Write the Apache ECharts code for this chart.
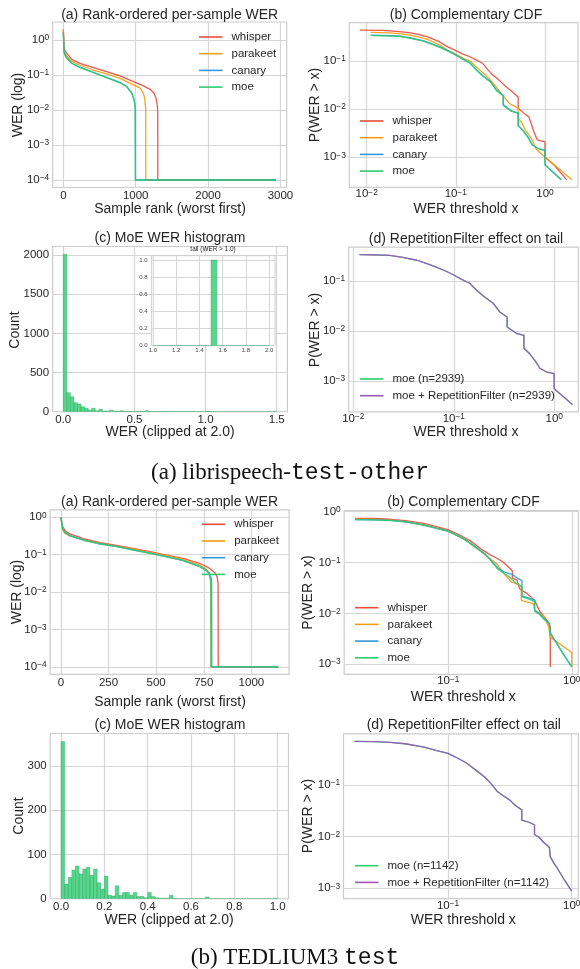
<!DOCTYPE html>
<html><head><meta charset="utf-8">
<script src="https://cdn.jsdelivr.net/npm/echarts@6/dist/echarts.min.js"></script>
<style>html,body{margin:0;padding:0;background:#fff}#c{width:580px;height:969px}</style>
</head><body><div id="c"></div><script>
// ================= DATA =================
// --- librispeech test-other: rank-ordered per-sample WER [rank, WER] ---
const libriRankWhisper = [[0,2.0],[9,0.65],[23,0.5],[46,0.42],[115,0.28],[230,0.215],[415,0.162],[599,0.125],[783,0.094],[968,0.065],[1106,0.049],[1198,0.039],[1253,0.03],[1281,0.0216],[1299,0.013],[1304,0.0085],[1305,1e-4],[2938,1e-4]];
const libriRankParakeet = [[0,2.0],[9,0.52],[23,0.42],[46,0.35],[115,0.25],[230,0.19],[415,0.139],[599,0.107],[783,0.08],[968,0.052],[1060,0.042],[1106,0.03],[1124,0.0216],[1134,0.013],[1138,0.011],[1139,1e-4],[2938,1e-4]];
const libriRankCanary = [[0,1.7],[9,0.48],[23,0.38],[46,0.31],[115,0.22],[230,0.167],[415,0.12],[599,0.086],[783,0.062],[876,0.047],[945,0.031],[977,0.02],[991,0.013],[997,0.011],[998,1e-4],[2938,1e-4]];
const libriRankMoe = [[0,1.5],[9,0.46],[23,0.37],[46,0.3],[115,0.215],[230,0.162],[415,0.117],[599,0.084],[783,0.06],[876,0.046],[945,0.03],[977,0.0194],[991,0.0125],[994,0.0115],[995,1e-4],[2938,1e-4]];
// --- librispeech: complementary CDF [x, P(WER > x)] ---
const libriCcdfWhisper = [[0.0084,0.44],[0.015,0.435],[0.02,0.42],[0.03,0.39],[0.04,0.35],[0.05,0.31],[0.066,0.25],[0.08,0.2],[0.1,0.165],[0.12,0.14],[0.144,0.123],[0.17,0.105],[0.2,0.09],[0.23,0.065],[0.26,0.051],[0.29,0.044],[0.32,0.037],[0.36,0.03],[0.42,0.024],[0.5,0.018],[0.5,0.0105],[0.55,0.009],[0.6,0.0078],[0.66,0.0069],[0.7,0.005],[0.75,0.0034],[0.82,0.0023],[1.0,0.0021],[1.0,0.001],[1.26,0.0007],[1.75,0.00034]];
const libriCcdfParakeet = [[0.011,0.395],[0.015,0.39],[0.02,0.38],[0.03,0.35],[0.04,0.31],[0.05,0.275],[0.066,0.215],[0.08,0.17],[0.1,0.14],[0.12,0.115],[0.144,0.1],[0.17,0.075],[0.2,0.058],[0.24,0.042],[0.28,0.03],[0.33,0.02],[0.4,0.013],[0.5,0.0105],[0.5,0.0065],[0.55,0.0052],[0.6,0.0037],[0.7,0.0025],[0.79,0.0015],[1.0,0.001],[1.4,0.0006],[2.0,0.00034]];
const libriCcdfCanary = [[0.011,0.345],[0.015,0.342],[0.023,0.332],[0.03,0.307],[0.043,0.266],[0.055,0.226],[0.067,0.195],[0.085,0.159],[0.1,0.135],[0.12,0.11],[0.144,0.092],[0.168,0.068],[0.2,0.05],[0.247,0.037],[0.287,0.025],[0.34,0.0195],[0.34,0.0125],[0.42,0.0092],[0.5,0.0084],[0.5,0.0046],[0.57,0.0036],[0.65,0.0026],[0.72,0.0018],[0.85,0.0015],[1.0,0.0014],[1.0,0.0007],[1.52,0.00034]];
const libriCcdfMoe = [[0.0115,0.337],[0.015,0.335],[0.023,0.325],[0.03,0.3],[0.043,0.26],[0.055,0.22],[0.067,0.19],[0.085,0.155],[0.1,0.132],[0.12,0.108],[0.144,0.09],[0.168,0.066],[0.2,0.049],[0.247,0.036],[0.287,0.024],[0.34,0.019],[0.34,0.012],[0.42,0.009],[0.5,0.0082],[0.5,0.0045],[0.57,0.0035],[0.65,0.0025],[0.72,0.0018],[0.85,0.0015],[1.0,0.0014],[1.0,0.0007],[1.52,0.00034]];
const libriCcdfMoeFiltered = libriCcdfMoe;
// --- librispeech: MoE WER histogram (60 bins on [0, 1.5]) and tail inset (20 bins on [1, 2]) ---
const libriHistStart = 0, libriHistWidth = 0.025;
const libriHistCounts = [2010,243,192,115,98,64,45,22,43,12, 30,10,9,20,8,7,12,4,5,3, 4,6,3,12,3,2,2,1,2,1, 2,1,1,1,1,1,1,0,1,0, 6,1,1,0,0,0,0,0,0,0, 0,0,0,0,0,0,0,0,0,1];
const tailHistStart = 1.0, tailHistWidth = 0.05;
const tailHistCounts = [0,0,0,0,0,0,0,0,0,0,1,0,0,0,0,0,0,0,0,0];

// --- TEDLIUM3 test: rank-ordered per-sample WER ---
const tedRankWhisper = [[0,1.0],[9,0.56],[21,0.44],[47,0.36],[117,0.27],[205,0.21],[292,0.178],[379,0.148],[467,0.12],[554,0.098],[641,0.08],[729,0.059],[781,0.043],[808,0.033],[820,0.026],[825,0.0175],[826,1e-4],[1141,1e-4]];
const tedRankParakeet = [[0,0.94],[9,0.46],[21,0.37],[47,0.32],[117,0.247],[205,0.2],[292,0.17],[379,0.142],[467,0.115],[554,0.094],[641,0.075],[729,0.053],[764,0.041],[778,0.032],[785,0.021],[787,0.0175],[788,1e-4],[1141,1e-4]];
const tedRankCanary = [[0,1.0],[9,0.5],[21,0.39],[47,0.325],[117,0.25],[205,0.196],[292,0.166],[379,0.135],[467,0.11],[554,0.089],[641,0.07],[729,0.049],[764,0.038],[780,0.032],[789,0.023],[791,0.0175],[792,1e-4],[1141,1e-4]];
const tedRankMoe = [[0,1.0],[9,0.5],[21,0.39],[47,0.32],[117,0.247],[205,0.193],[292,0.164],[379,0.133],[467,0.109],[554,0.088],[641,0.069],[729,0.048],[764,0.037],[778,0.032],[785,0.023],[787,0.0175],[788,1e-4],[1141,1e-4]];
// --- TEDLIUM3: complementary CDF ---
const tedCcdfWhisper = [[0.0175,0.74],[0.025,0.735],[0.034,0.71],[0.045,0.67],[0.063,0.59],[0.08,0.51],[0.1,0.44],[0.12,0.36],[0.15,0.27],[0.19,0.175],[0.22,0.14],[0.25,0.12],[0.28,0.1],[0.33,0.069],[0.33,0.05],[0.36,0.045],[0.38,0.03],[0.43,0.025],[0.5,0.018],[0.55,0.011],[0.6,0.0085],[0.63,0.0072],[0.67,0.0054],[0.67,0.00088]];
const tedCcdfParakeet = [[0.0175,0.71],[0.025,0.705],[0.034,0.685],[0.045,0.64],[0.064,0.55],[0.08,0.475],[0.1,0.415],[0.12,0.335],[0.14,0.27],[0.17,0.19],[0.2,0.14],[0.246,0.095],[0.28,0.062],[0.326,0.041],[0.39,0.035],[0.39,0.018],[0.49,0.0153],[0.5,0.0114],[0.59,0.0091],[0.65,0.0054],[0.67,0.0034],[1.0,0.0017],[1.0,0.00088]];
const tedCcdfCanary = [[0.0175,0.70],[0.025,0.69],[0.034,0.675],[0.045,0.635],[0.064,0.545],[0.08,0.475],[0.1,0.415],[0.12,0.335],[0.14,0.275],[0.17,0.195],[0.2,0.145],[0.22,0.113],[0.25,0.08],[0.28,0.066],[0.33,0.058],[0.36,0.05],[0.395,0.044],[0.395,0.022],[0.45,0.02],[0.5,0.0185],[0.5,0.0115],[0.55,0.0098],[0.59,0.008],[0.66,0.0064],[0.67,0.0042],[0.72,0.0031],[0.76,0.0025],[0.88,0.0014],[1.0,0.00088]];
const tedCcdfMoe = [[0.0175,0.70],[0.025,0.69],[0.034,0.67],[0.045,0.63],[0.064,0.54],[0.08,0.47],[0.1,0.41],[0.12,0.33],[0.14,0.27],[0.17,0.19],[0.2,0.14],[0.22,0.11],[0.25,0.075],[0.28,0.062],[0.316,0.051],[0.35,0.04],[0.395,0.033],[0.395,0.021],[0.45,0.019],[0.5,0.017],[0.5,0.011],[0.55,0.0095],[0.59,0.0078],[0.66,0.0062],[0.67,0.0041],[0.72,0.003],[0.76,0.0025],[0.88,0.0014],[1.0,0.00088]];
const tedCcdfMoeFiltered = tedCcdfMoe;
// --- TEDLIUM3: MoE WER histogram (60 bins on [0, 1]) ---
const tedHistStart = 0, tedHistWidth = 1/60;
const tedHistCounts = [355,33,48,65,74,56,67,71,53,67, 36,22,51,8,6,29,8,14,14,8, 14,5,5,2,14,5,2,1,1,1, 8,1,0,0,0,0,0,0,0,0, 4,0,0,0,0,0,0,0,0,0, 0,0,0,0,0,0,0,0,0,1];

// tick values
const rankTicksLibri = [0,1000,2000,3000];
const rankTicksTed = [0,250,500,750,1000];
const logTicksRank = [1e-4,1e-3,1e-2,1e-1,1];
const logTicksX3 = [0.01,0.1,1];
const logTicksX2 = [0.1,1];
const logTicksY3 = [1e-3,1e-2,1e-1];
const logTicksY4 = [1e-3,1e-2,1e-1,1];
const histTicksLibriX = [0,0.5,1.0,1.5];
const histTicksLibriY = [0,500,1000,1500,2000];
const tailTicksX = [1.0,1.2,1.4,1.6,1.8,2.0];
const tailTicksY = [0,0.2,0.4,0.6,0.8,1.0];
const histTicksTedX = [0,0.2,0.4,0.6,0.8,1.0];
const histTicksTedY = [0,100,200,300];

// ================= STYLE / LAYOUT =================
const FONT = 'Liberation Sans';
const TXT = '#262626';
const GRIDC = '#d6d6d6';
const COL = {whisper:'#e74c3c', parakeet:'#f39c12', canary:'#3498db', moe:'#2ecc71'};
const PURPLE = '#9b59b6';
function fLog(v){ const l=Math.log10(v), e=Math.round(l); if(Math.abs(l-e)>1e-6) return ''; return '{b|10}{s|'+(e<0?'\u2212':'')+Math.abs(e)+'}'; }
function fInt(v){ return String(Math.round(v)); }
function f1(v){ return (+v).toFixed(1); }
const LOGRICH = {
  b:{fontFamily:FONT, fontSize:11.5, color:TXT, lineHeight:12, padding:[2.5,0,0,0], verticalAlign:'bottom'},
  s:{fontFamily:FONT, fontSize:8.3, color:TXT, lineHeight:9, verticalAlign:'top'}
};

function mkGrid(left, top, width, height, extra){
  return Object.assign({left, top, width, height, show:true, borderColor:'#cccccc', borderWidth:1.2,
    backgroundColor:'transparent', containLabel:false, outerBoundsMode:'none'}, extra||{});
}
const grids = [
  mkGrid(52.7, 22, 234, 165.5),          // 0 libri (a)
  mkGrid(349.3, 22.6, 228.7, 164.7),     // 1 libri (b)
  mkGrid(52.6, 246.5, 234.8, 165.2),     // 2 libri (c)
  mkGrid(151.7, 255.7, 123.3, 90, {z:5, backgroundColor:'#ffffff', borderWidth:1}), // 3 inset
  mkGrid(348.7, 247.1, 229.6, 164.8),    // 4 libri (d)
  mkGrid(50.1, 509.8, 239, 164.6),       // 5 ted (a)
  mkGrid(344.2, 510.7, 234.1, 163.6),    // 6 ted (b)
  mkGrid(50.2, 733.5, 238.3, 165.2),     // 7 ted (c)
  mkGrid(343.5, 733.9, 234.8, 164.7)     // 8 ted (d)
];

function mkAxis(gi, type, lo, hi, ticks, fmt, labelOpt, extra){
  const ax = {
    type, gridIndex: gi,
    min: type==='log' ? Math.pow(10,lo) : lo,
    max: type==='log' ? Math.pow(10,hi) : hi,
    axisLine:{show:false},
    axisTick:{show:false, customValues:ticks},
    axisLabel:Object.assign({customValues:ticks, formatter:fmt, color:TXT, fontFamily:FONT, fontSize:11.5, margin:3}, labelOpt||{}),
    splitLine:{show:true, lineStyle:{color:GRIDC, width:1.2}},
    minorTick:{show:false}, minorSplitLine:{show:false}
  };
  if(type==='log'){ ax.logBase = 10; ax.axisLabel.rich = LOGRICH; }
  return Object.assign(ax, extra||{});
}
const XL = {margin:2};
const XLL = {margin:1};
const inset = {fontSize:6, margin:2, color:'#444'};
const xAxes = [
  mkAxis(0,'value',-147,3086,rankTicksLibri,fInt,XL),
  mkAxis(1,'log',-2.195,0.37,logTicksX3,fLog,XLL),
  mkAxis(2,'value',-0.075,1.575,histTicksLibriX,f1,XL),
  mkAxis(3,'value',0.99,2.05,tailTicksX,f1,inset,{z:6, splitLine:{show:true,lineStyle:{color:GRIDC,width:1}}}),
  mkAxis(4,'log',-2.046,0.24,logTicksX3,fLog,XLL),
  mkAxis(5,'value',-57,1198,rankTicksTed,fInt,XL),
  mkAxis(6,'log',-1.844,0.053,logTicksX2,fLog,XLL),
  mkAxis(7,'value',-0.05,1.05,histTicksTedX,f1,XL),
  mkAxis(8,'log',-1.845,0.053,logTicksX2,fLog,XLL)
];
const YL = {margin:3.5};
const yAxes = [
  mkAxis(0,'log',-4.215,0.515,logTicksRank,fLog,YL),
  mkAxis(1,'log',-3.624,-0.2,logTicksY3,fLog,YL),
  mkAxis(2,'value',0,2110,histTicksLibriY,fInt,YL),
  mkAxis(3,'value',0,1.05,tailTicksY,f1,Object.assign({},inset,{margin:4}),{z:6, splitLine:{show:true,lineStyle:{color:GRIDC,width:1}}}),
  mkAxis(4,'log',-3.618,-0.322,logTicksY3,fLog,YL),
  mkAxis(5,'log',-4.2,0.2,logTicksRank,fLog,YL),
  mkAxis(6,'log',-3.2,0.02,logTicksY4,fLog,YL),
  mkAxis(7,'value',0,373,histTicksTedY,fInt,YL),
  mkAxis(8,'log',-3.2,-0.01,logTicksY3,fLog,YL)
];

function line(name, data, color, gi, z){
  return {type:'line', name, data, xAxisIndex:gi, yAxisIndex:gi, color, symbol:'none', showSymbol:false,
    lineStyle:{color, width:1.3, opacity:0.92}, itemStyle:{color}, clip:true, z:z||2, silent:true};
}
function hist(counts, start, width, gi, z){
  const data = counts.map((c,i)=>[start+i*width, start+(i+1)*width, c]);
  return {type:'custom', xAxisIndex:gi, yAxisIndex:gi, data, clip:true, z:z||2, silent:true,
    encode:{x:[0,1], y:2},
    renderItem:(p, api)=>{
      const a = api.coord([api.value(0), 0]);
      const b = api.coord([api.value(1), api.value(2)]);
      return {type:'rect', shape:{x:a[0], y:b[1], width:b[0]-a[0], height:a[1]-b[1]},
        style:{fill:'rgba(46,204,113,0.8)', stroke:'rgba(34,160,88,0.6)', lineWidth:0.6}};
    }};
}
const series = [
  line('whisper', libriRankWhisper, COL.whisper, 0),
  line('parakeet', libriRankParakeet, COL.parakeet, 0),
  line('canary', libriRankCanary, COL.canary, 0),
  line('moe', libriRankMoe, COL.moe, 0),
  line('whisper', libriCcdfWhisper, COL.whisper, 1),
  line('parakeet', libriCcdfParakeet, COL.parakeet, 1),
  line('canary', libriCcdfCanary, COL.canary, 1),
  line('moe', libriCcdfMoe, COL.moe, 1),
  hist(libriHistCounts, libriHistStart, libriHistWidth, 2),
  hist(tailHistCounts, tailHistStart, tailHistWidth, 3, 7),
  line('moe (n=2939)', libriCcdfMoe, COL.moe, 4),
  line('moe + RepetitionFilter (n=2939)', libriCcdfMoeFiltered, PURPLE, 4),
  line('whisper', tedRankWhisper, COL.whisper, 5),
  line('parakeet', tedRankParakeet, COL.parakeet, 5),
  line('canary', tedRankCanary, COL.canary, 5),
  line('moe', tedRankMoe, COL.moe, 5),
  line('whisper', tedCcdfWhisper, COL.whisper, 6),
  line('parakeet', tedCcdfParakeet, COL.parakeet, 6),
  line('canary', tedCcdfCanary, COL.canary, 6),
  line('moe', tedCcdfMoe, COL.moe, 6),
  hist(tedHistCounts, tedHistStart, tedHistWidth, 7),
  line('moe (n=1142)', tedCcdfMoe, COL.moe, 8),
  line('moe + RepetitionFilter (n=1142)', tedCcdfMoeFiltered, PURPLE, 8)
];

function legend(names, left, top){
  return {show:true, orient:'vertical', left, top, data:names, icon:'rect', itemWidth:23.5, itemHeight:1.6,
    itemGap:2.7, padding:0, selectedMode:false, z:10,
    textStyle:{fontFamily:FONT, fontSize:11.5, color:TXT, lineHeight:14, padding:[0,0,0,4]}};
}
const models = ['whisper','parakeet','canary','moe'];
const legends = [
  legend(models, 199, 30),
  legend(models, 360, 114),
  legend(['moe (n=2939)','moe + RepetitionFilter (n=2939)'], 360, 372),
  legend(models, 201.7, 517.3),
  legend(models, 355, 600.7),
  legend(['moe (n=1142)','moe + RepetitionFilter (n=1142)'], 355, 858.7)
];

function T(x, y, text, size, rot){
  const el = {type:'text', x, y, z:100, silent:true,
    style:{text, fill:TXT, fontFamily:FONT, fontSize:size, align:'center', verticalAlign:'middle', textAlign:'center', textVerticalAlign:'middle'}};
  if(rot) el.rotation = Math.PI/2;
  return el;
}
function caption(x, y, roman, mono){
  return {type:'text', x, y, z:100, silent:true,
    style:{text:'{r|'+roman+'}{m|'+mono+'}', align:'center', verticalAlign:'middle', textAlign:'center', textVerticalAlign:'middle',
      rich:{r:{fontFamily:'Liberation Serif', fontSize:23, fill:'#111'}, m:{fontFamily:'Liberation Mono', fontSize:23, fill:'#111'}}}};
}
const texts = [
  T(169.7, 15, '(a) Rank-ordered per-sample WER', 14),
  T(466, 15, '(b) Complementary CDF', 14),
  T(170, 238.5, '(c) MoE WER histogram', 14),
  T(466, 239, '(d) RepetitionFilter effect on tail', 14),
  T(213, 249.5, 'tail (WER > 1.0)', 6.4),
  T(18.3, 105, 'WER (log)', 14, true),
  T(170, 209.3, 'Sample rank (worst first)', 14),
  T(315, 105, 'P(WER > x)', 14, true),
  T(466, 209.3, 'WER threshold x', 14),
  T(15, 330, 'Count', 14, true),
  T(170, 431.7, 'WER (clipped at 2.0)', 14),
  T(315, 330, 'P(WER > x)', 14, true),
  T(466, 431.7, 'WER threshold x', 14),
  caption(290, 473, '(a) librispeech-', 'test-other'),
  T(169.5, 501.7, '(a) Rank-ordered per-sample WER', 14),
  T(463.5, 501.7, '(b) Complementary CDF', 14),
  T(16.7, 592, 'WER (log)', 14, true),
  T(170, 702, 'Sample rank (worst first)', 14),
  T(308.3, 592.5, 'P(WER > x)', 14, true),
  T(463.3, 697, 'WER threshold x', 14),
  T(170, 725, '(c) MoE WER histogram', 14),
  T(463.8, 725, '(d) RepetitionFilter effect on tail', 14),
  T(19.3, 816, 'Count', 14, true),
  T(169, 920, 'WER (clipped at 2.0)', 14),
  T(308.3, 816, 'P(WER > x)', 14, true),
  T(463.3, 920, 'WER threshold x', 14),
  caption(295, 958, '(b) TEDLIUM3 ', 'test')
];

const chart = echarts.init(document.getElementById('c'), null, {renderer:'canvas', width:580, height:969});
chart.setOption({
  animation:false,
  backgroundColor:'#ffffff',
  textStyle:{fontFamily:FONT},
  grid: grids, xAxis: xAxes, yAxis: yAxes,
  legend: legends, series, graphic: {elements: texts}
});
</script></body></html>
